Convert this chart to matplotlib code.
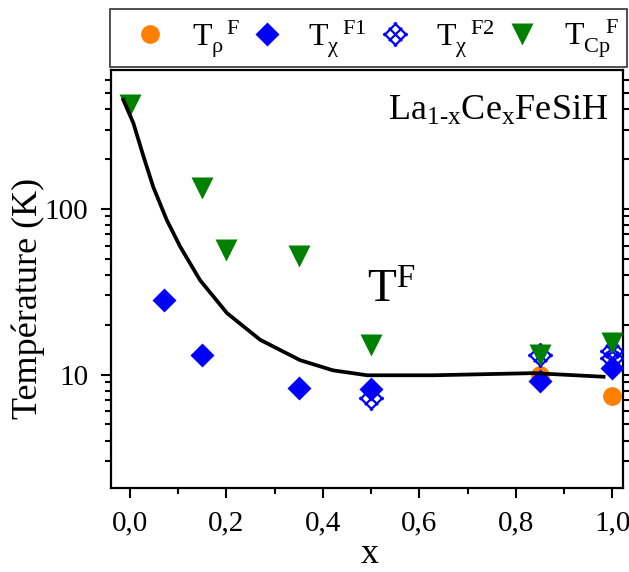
import numpy as np
import matplotlib
matplotlib.use("Agg")
import matplotlib.pyplot as plt
from matplotlib.path import Path
from matplotlib.lines import Line2D
from matplotlib.ticker import FixedLocator, LogLocator, MultipleLocator, FuncFormatter, NullFormatter

plt.rcParams['font.family'] = 'Liberation Serif'
plt.rcParams['mathtext.fontset'] = 'custom'
plt.rcParams['mathtext.rm'] = 'Liberation Serif'
plt.rcParams['mathtext.default'] = 'regular'

# data
x_rho = [0.85, 1.0]
T_rho = [9.9, 7.4]

x_chi1 = [0.07, 0.15, 0.35, 0.5, 0.85, 1.0]
T_chi1 = [28.0, 13.1, 8.3, 8.2, 9.2, 10.9]

x_chi2 = [0.5, 0.85, 1.0, 1.0]
T_chi2 = [7.2, 13.1, 13.8, 12.5]

x_cp = [0.0, 0.15, 0.2, 0.35, 0.5, 0.85, 1.0]
T_cp = [422, 134, 56.4, 52, 15.0, 13.1, 15.4]

# guide line T^F
x_line = [-0.014, 0.007, 0.028, 0.048, 0.076, 0.104, 0.145, 0.201, 0.27,
          0.353, 0.421, 0.492, 0.629, 0.837, 0.982]
T_line = [455, 329, 207, 136, 85.9, 59.2, 37.2, 23.5, 16.2,
          12.2, 10.6, 9.9, 9.9, 10.2, 9.7]

# crossed diamond marker (Origin style)
s = 1 / np.sqrt(2)
L = s * 1.25
verts = []
codes = []
for b in (-s, 0, s):
    for sign in (1, -1):
        ux, uy = np.array([1, sign]) / np.sqrt(2)
        vx, vy = np.array([1, -sign]) / np.sqrt(2)
        verts += [(-L * ux + b * vx, -L * uy + b * vy), (L * ux + b * vx, L * uy + b * vy)]
        codes += [Path.MOVETO, Path.LINETO]
crossed = Path(verts, codes)

fig = plt.figure(figsize=(6.29, 5.72), dpi=100)
ax = fig.add_axes([0.176, 0.147, 0.815, 0.731])

orange = '#ff8000'
blue = '#0000ff'
green = '#008000'

ax.plot(x_rho, T_rho, 'o', color=orange, ms=13.5, mec='none', zorder=2)
ax.plot(x_chi2, T_chi2, ls='none', marker=crossed, ms=17, mfc='none',
        mec=blue, mew=1.6, zorder=3)
ax.plot(x_chi1, T_chi1, 'D', color=blue, ms=12, mec='none', zorder=4)
ax.plot(x_cp, T_cp, 'v', color=green, ms=16, mec='none', zorder=5)
ax.plot(x_line, T_line, '-', color='black', lw=2.7, zorder=6)

ax.set_yscale('log')
ax.set_xlim(-0.04, 1.023)
ax.set_ylim(2.07, 690)

ax.xaxis.set_major_locator(MultipleLocator(0.2))
ax.xaxis.set_minor_locator(MultipleLocator(0.1))
ax.xaxis.set_major_formatter(FuncFormatter(lambda v, p: f'{v:.1f}'.replace('.', ',')))
ax.yaxis.set_major_locator(FixedLocator([10, 100]))
ax.yaxis.set_major_formatter(FuncFormatter(lambda v, p: f'{v:g}'))
ax.yaxis.set_minor_locator(LogLocator(base=10, subs=np.arange(2, 10)))
ax.yaxis.set_minor_formatter(NullFormatter())

ax.tick_params(axis='both', which='major', direction='out', length=7, width=1.5, labelsize=21)
ax.tick_params(axis='both', which='minor', direction='out', length=4, width=1.5)
ax.tick_params(axis='x', which='both', top=False, pad=9)
ax.tick_params(axis='y', which='both', right=True, labelright=False, pad=9)
for sp in ax.spines.values():
    sp.set_linewidth(1.6)

# axis titles placed in figure pixels as in the reference
fig.text(370 / 629, 1 / 572, 'x', fontsize=26, ha='center', va='bottom')
fig.text(28.5 / 629, 1 - 298 / 572, 'Température (K)', fontsize=26,
         rotation=90, ha='center', va='center')

ax.text(0.97, 0.94, 'La$_{1\u2010x}$Ce$_x$FeSiH', transform=ax.transAxes,
        ha='right', va='top', fontsize=26)
ax.text(0.547, 0.443, 'T$^F$', transform=ax.transAxes, ha='center', va='baseline',
        fontsize=34)

handles = [
    Line2D([], [], ls='none', marker='o', color=orange, ms=13.5, mec='none'),
    Line2D([], [], ls='none', marker='D', color=blue, ms=12, mec='none'),
    Line2D([], [], ls='none', marker=crossed, ms=17, mfc='none', mec=blue, mew=1.6),
    Line2D([], [], ls='none', marker='v', color=green, ms=16, mec='none'),
]
labels = [r'$T_{ρ}^{\ \ F}$', r'$T_{χ}^{\ \ F1}$', r'$T_{χ}^{\ \ F2}$', r'$T_{Cp}^{\ \ \ F}$']
leg = fig.legend(handles, labels, loc='lower left', ncol=4, mode='expand',
                 bbox_to_anchor=(0.175, 0.882, 0.822, 0.103), fontsize=23,
                 frameon=True, fancybox=False, edgecolor='black',
                 handlelength=2.0, handletextpad=0.3, borderaxespad=0,
                 borderpad=0.25, columnspacing=0.4)
leg.get_frame().set_linewidth(1.2)

fig.savefig('out.png', dpi=100)
